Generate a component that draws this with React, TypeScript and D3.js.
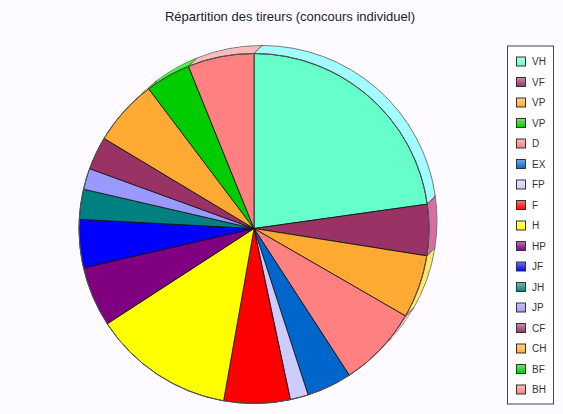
import React, { useRef, useEffect } from "react";
import * as d3 from "d3";

const width = 563;
const height = 414;
const cx = 254;
const cy = 228.5;
const radius = 175;
const depth = 8;

const labels = ["VH", "VF", "VP", "VP", "D", "EX", "FP", "F", "H", "HP", "JF", "JH", "JP", "CF", "CH", "BF", "BH"];
const values = [82, 17, 21, 0, 27, 15, 6, 22, 47, 20, 16, 10, 7, 11, 22, 15, 22];
const colors = [
  "#66ffcc", "#993366", "#ffaa33", "#00cc00", "#ff8080", "#0066cc", "#ccccff", "#ff0000",
  "#ffff00", "#800080", "#0000ff", "#008080", "#9999ff", "#993366", "#ffaa33", "#00cc00", "#ff8080"
];

// lighter tone used for the pie's side wall
function rimColor(c: string) {
  const rgb = d3.rgb(c);
  return d3.rgb(Math.min(255, rgb.r + 60), Math.min(255, rgb.g + 60), Math.min(255, rgb.b + 60)).formatHex();
}

export default function App() {
  const ref = useRef<SVGSVGElement | null>(null);

  useEffect(() => {
    const svg = d3.select(ref.current);
    svg.selectAll("*").remove();

    svg.append("rect").attr("width", width).attr("height", height).attr("fill", "#fdfbff");

    svg
      .append("text")
      .attr("x", 290)
      .attr("y", 21)
      .attr("text-anchor", "middle")
      .attr("font-family", "Liberation Sans, Arial, sans-serif")
      .attr("font-size", 13)
      .attr("fill", "#222")
      .text("Répartition des tireurs (concours individuel)");

    const data = labels.map((label, i) => ({ label, value: values[i], color: colors[i] }));
    const pie = d3.pie<any>().value((d) => d.value).sort(null);
    const slices = pie(data).filter((d) => d.data.value > 0);
    const arc = d3.arc<any>().innerRadius(0).outerRadius(radius);

    // side wall, drawn as stacked layers from back to front
    for (let k = depth; k >= 1; k--) {
      const layer = svg.append("g").attr("transform", `translate(${cx + k},${cy - k})`);
      layer
        .selectAll("path")
        .data(slices)
        .enter()
        .append("path")
        .attr("d", arc)
        .attr("fill", (d) => rimColor(d.data.color))
        .attr("stroke", k === depth ? "#777" : "none")
        .attr("stroke-width", 1);
    }

    // wall edges at the slice boundaries
    const edges = svg.append("g");
    slices.forEach((d) => {
      const a = d.startAngle;
      const x = cx + radius * Math.sin(a);
      const y = cy - radius * Math.cos(a);
      edges
        .append("line")
        .attr("x1", x)
        .attr("y1", y)
        .attr("x2", x + depth)
        .attr("y2", y - depth)
        .attr("stroke", "#555")
        .attr("stroke-width", 1);
    });

    // top face
    const face = svg.append("g").attr("transform", `translate(${cx},${cy})`);
    face
      .selectAll("path")
      .data(slices)
      .enter()
      .append("path")
      .attr("d", arc)
      .attr("fill", (d) => d.data.color)
      .attr("stroke", "#111")
      .attr("stroke-width", 0.8)
      .attr("stroke-linejoin", "round");
    face
      .append("circle")
      .attr("r", radius)
      .attr("fill", "none")
      .attr("stroke", "#555")
      .attr("stroke-width", 1);

    // legend swatch gradients
    const defs = svg.append("defs");
    data.forEach((d, i) => {
      const grad = defs
        .append("linearGradient")
        .attr("id", `sw${i}`)
        .attr("x1", 0)
        .attr("y1", 0)
        .attr("x2", 0)
        .attr("y2", 1);
      grad.append("stop").attr("offset", "0%").attr("stop-color", d3.interpolateRgb(d.color, "#ffffff")(0.45));
      grad.append("stop").attr("offset", "100%").attr("stop-color", d.color);
    });

    // legend
    const lx = 507;
    const ly = 45.5;
    const step = 20.5;
    const legend = svg.append("g");
    legend
      .append("rect")
      .attr("x", lx + 0.5)
      .attr("y", ly + 0.5)
      .attr("width", 46)
      .attr("height", 358)
      .attr("fill", "#ffffff")
      .attr("stroke", "#444")
      .attr("stroke-width", 1);

    const items = legend
      .selectAll("g.item")
      .data(data)
      .enter()
      .append("g")
      .attr("class", "item")
      .attr("transform", (_, i) => `translate(${lx + 9},${ly + 11 + i * step})`);
    items
      .append("rect")
      .attr("x", 0.5)
      .attr("y", 0.5)
      .attr("width", 9)
      .attr("height", 9)
      .attr("fill", (_, i) => `url(#sw${i})`)
      .attr("stroke", "#333")
      .attr("stroke-width", 1);
    items
      .append("text")
      .attr("x", 16)
      .attr("y", 8.5)
      .attr("font-family", "Liberation Sans, Arial, sans-serif")
      .attr("font-size", 10)
      .attr("fill", "#333")
      .text((d) => d.label);
  }, []);

  return <svg ref={ref} width={width} height={height} style={{ position: "absolute", left: 0, top: 0 }} />;
}
